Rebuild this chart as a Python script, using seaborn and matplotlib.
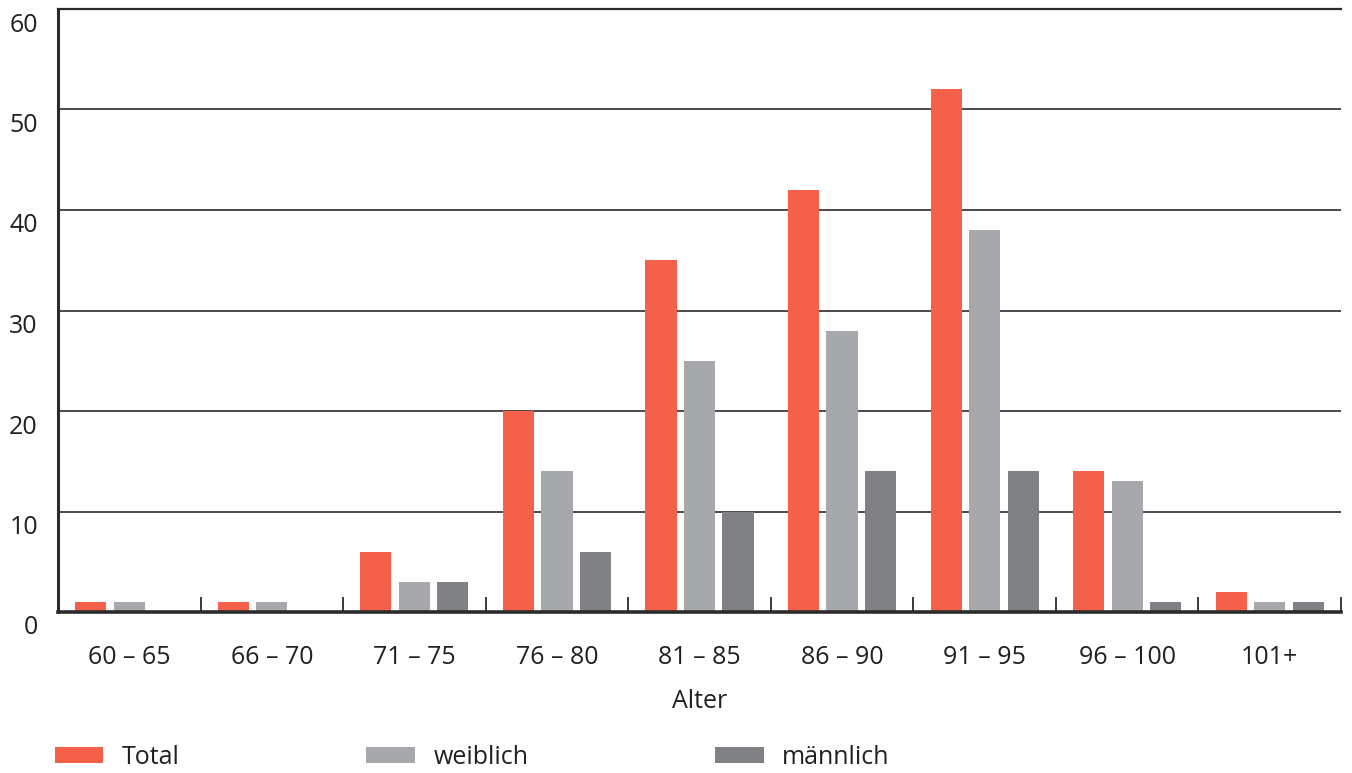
import matplotlib
matplotlib.use("Agg")
import matplotlib.pyplot as plt
import matplotlib.transforms as mtransforms
import numpy as np
import pandas as pd
import seaborn as sns

# Age groups and counts per series
categories = ["60 – 65", "66 – 70", "71 – 75", "76 – 80", "81 – 85",
              "86 – 90", "91 – 95", "96 – 100", "101+"]
total = [1, 1, 6, 20, 35, 42, 52, 14, 2]
weiblich = [1, 1, 3, 14, 25, 28, 38, 13, 1]
maennlich = [0, 0, 3, 6, 10, 14, 14, 1, 1]
series_names = ["Total", "weiblich", "männlich"]
y_ticks = [0, 10, 20, 30, 40, 50, 60]

colors = ["#F4604A", "#A7A8AC", "#808184"]
dark = "#2b2b2b"

df = pd.DataFrame({
    "Alter": categories * 3,
    "Anzahl": total + weiblich + maennlich,
    "Gruppe": [s for s in series_names for _ in categories],
})

sns.set_theme(style="white")
plt.rcParams["font.family"] = ["Open Sans", "DejaVu Sans"]

fig = plt.figure(figsize=(13.52, 7.73), dpi=100)
ax = fig.add_axes([58 / 1352, 1 - 612 / 773, (1341 - 58) / 1352, (612 - 9) / 773])

sns.barplot(data=df, x="Alter", y="Anzahl", hue="Gruppe", order=categories,
            hue_order=series_names, palette=colors, width=0.81, gap=0.19,
            saturation=1, linewidth=0, edgecolor="none", ax=ax, legend=True)

ax.set_xlim(-0.5, len(categories) - 0.5)
ax.set_ylim(0, 60)
ax.set_yticks(y_ticks)
ax.set_yticklabels([str(v) for v in y_ticks])

# horizontal gridlines
ax.yaxis.grid(True, color="#4a4a4a", linewidth=1.4)
ax.set_axisbelow(True)

ax.spines["right"].set_visible(False)
ax.spines["top"].set_color(dark)
ax.spines["top"].set_linewidth(1.6)
ax.spines["left"].set_color(dark)
ax.spines["left"].set_linewidth(2.2)
ax.spines["bottom"].set_color(dark)
ax.spines["bottom"].set_linewidth(2.6)

# category separators as inward minor ticks
ax.set_xticks(np.arange(-0.5, len(categories), 1.0), minor=True)
ax.tick_params(axis="x", which="minor", direction="in", length=11, width=1.3,
               color=dark, bottom=True)
ax.tick_params(axis="x", which="major", length=0, pad=23.5, labelsize=18,
               labelcolor="#231f20")
ax.tick_params(axis="y", length=0, pad=14.5, labelsize=18, labelcolor="#231f20")

offset = mtransforms.ScaledTranslation(0, -13 / 100, fig.dpi_scale_trans)
for lab in ax.get_yticklabels():
    lab.set_transform(lab.get_transform() + offset)

ax.set_xlabel("Alter", fontsize=18, color="#231f20", labelpad=14)
ax.set_ylabel("")

handles, labels = ax.get_legend_handles_labels()
ax.get_legend().remove()
fig.legend(handles, labels, loc="lower left", bbox_to_anchor=(32 / 1352, -0.025),
           ncol=3, frameon=False, fontsize=18, handlelength=1.95,
           handleheight=0.6, handletextpad=0.75, columnspacing=7.45,
           labelcolor="#231f20")

fig.savefig("out.png", dpi=100)
